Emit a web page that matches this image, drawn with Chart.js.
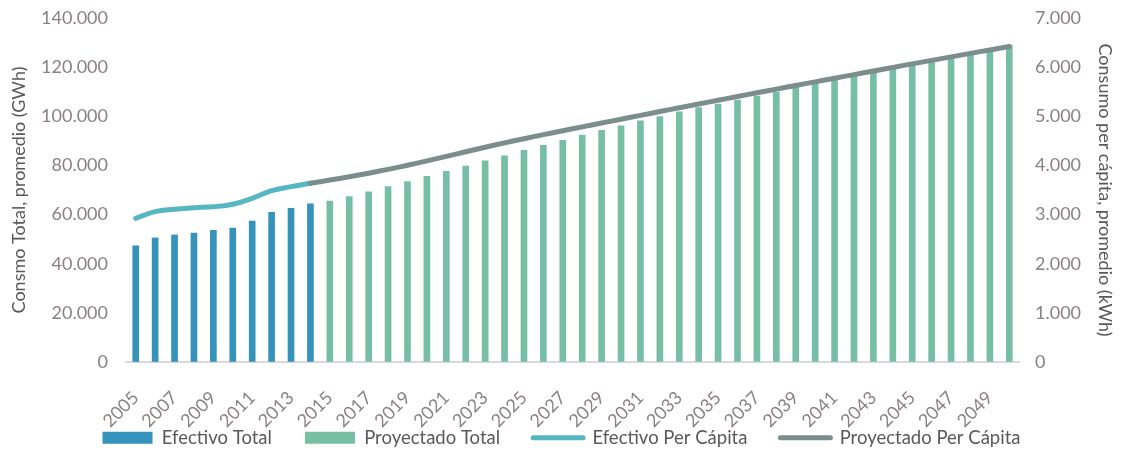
<!DOCTYPE html>
<html lang="es">
<head>
<meta charset="utf-8">
<title>Consumo de energía</title>
<script src="https://cdn.jsdelivr.net/npm/chart.js@4"></script>
<style>
    html, body { margin: 0; padding: 0; background: #ffffff; }
    #contenedor { width: 1123px; height: 454px; }
</style>
</head>
<body>
<div id="contenedor"><canvas id="grafConsumo"></canvas></div>
<script>
// roky / años
const anios = ['2005', '2006', '2007', '2008', '2009', '2010', '2011', '2012', '2013', '2014',
    '2015', '2016', '2017', '2018', '2019', '2020', '2021', '2022', '2023', '2024',
    '2025', '2026', '2027', '2028', '2029', '2030', '2031', '2032', '2033', '2034',
    '2035', '2036', '2037', '2038', '2039', '2040', '2041', '2042', '2043', '2044',
    '2045', '2046', '2047', '2048', '2049', '2050'];

// consumo total (GWh), 2005-2014 efectivo, 2015-2050 proyectado
const efectivoTotal = [47300, 50500, 51700, 52500, 53600, 54500, 57400, 60900, 62500, 64400];
const proyectadoTotal = [65500, 67300, 69300, 71350, 73400, 75550, 77600, 79750, 81900, 83950,
    86150, 88200, 90200, 92400, 94300, 96150, 98100, 99850, 101800, 103500,
    105000, 106600, 108250, 109900, 111800, 113400, 115050, 116700, 118150, 119800,
    121400, 122900, 124550, 126050, 127300, 129000];

// consumo per cápita (kWh), efectivo 2005-2014, proyectado 2014-2050
const efectivoPerCapita = [2924, 3059, 3107, 3140, 3160, 3209, 3331, 3486, 3568, 3637];
const proyectadoPerCapita = [3637, 3702, 3770, 3842, 3920, 4004, 4092, 4184, 4278, 4370,
    4459, 4544, 4626, 4706, 4785, 4863, 4941, 5019, 5097, 5174,
    5251, 5327, 5403, 5478, 5553, 5627, 5701, 5775, 5848, 5921,
    5994, 6066, 6138, 6209, 6280, 6350, 6420];

const ticksIzq = [0, 20000, 40000, 60000, 80000, 100000, 120000, 140000];
const ticksDer = [0, 1000, 2000, 3000, 4000, 5000, 6000, 7000];

// doplnit null, aby řady seděly na osu let
function naOsu(hodnoty, od) {
    const pole = anios.map(() => null);
    hodnoty.forEach((v, i) => { pole[od + i] = v; });
    return pole;
}

function tisice(v) {
    return String(v).replace(/\B(?=(\d{3})+(?!\d))/g, '.');
}

const pismo = { family: 'Lato, "Open Sans", sans-serif', size: 18 };
const pismoLegendy = { family: 'Lato, "Open Sans", sans-serif', size: 18.5 };
const barvaPopisku = '#8a8282';
const barvaTitulku = '#595959';

// popisky roků přesahují do pásu legendy, proto nechat ořez osy x až k dolnímu okraji
const neorezavatOsuX = {
    id: 'neorezavatOsuX',
    afterLayout(chart) {
        chart.scales.x.bottom = chart.height;
    }
};

// neviditelné čárky místo velkého ticks.padding (to by posunulo horní okraj grafu)
function mrizkaOsyY(delka) {
    return { display: true, drawOnChartArea: false, drawTicks: true, tickLength: delka, color: 'rgba(0,0,0,0)' };
}

const ctx = document.getElementById('grafConsumo').getContext('2d');

window.grafConsumo = new Chart(ctx, {
    type: 'bar',
    data: {
        labels: anios,
        datasets: [
            {
                label: 'Efectivo Total',
                data: naOsu(efectivoTotal, 0),
                backgroundColor: '#3592ba',
                barThickness: 6,
                grouped: false,
                yAxisID: 'y',
                order: 2
            },
            {
                label: 'Proyectado Total',
                data: naOsu(proyectadoTotal, 10),
                backgroundColor: '#77bfa4',
                barThickness: 6,
                grouped: false,
                yAxisID: 'y',
                order: 2
            },
            {
                type: 'line',
                label: 'Efectivo Per Cápita',
                data: naOsu(efectivoPerCapita, 0),
                borderColor: '#56b7c3',
                backgroundColor: '#56b7c3',
                borderWidth: 5,
                borderCapStyle: 'round',
                tension: 0.4,
                pointRadius: 0,
                yAxisID: 'y1',
                order: 1
            },
            {
                type: 'line',
                label: 'Proyectado Per Cápita',
                data: naOsu(proyectadoPerCapita, 9),
                borderColor: '#7b8d8c',
                backgroundColor: '#7b8d8c',
                borderWidth: 5,
                borderCapStyle: 'round',
                tension: 0.4,
                pointRadius: 0,
                yAxisID: 'y1',
                order: 0
            }
        ]
    },
    plugins: [neorezavatOsuX],
    options: {
        responsive: true,
        maintainAspectRatio: false,
        animation: false,
        layout: { padding: { top: 18, bottom: -3, left: 0, right: 0 } },
        plugins: {
            tooltip: { enabled: false },
            legend: {
                position: 'bottom',
                labels: {
                    usePointStyle: true,
                    pointStyleWidth: 50,
                    boxHeight: 12,
                    padding: 33,
                    color: barvaTitulku,
                    font: pismoLegendy,
                    generateLabels: (chart) => chart.data.datasets.map((ds, i) => ({
                        text: ds.label,
                        datasetIndex: i,
                        fillStyle: ds.backgroundColor,
                        strokeStyle: ds.type === 'line' ? ds.borderColor : ds.backgroundColor,
                        lineWidth: ds.type === 'line' ? 5 : 0,
                        lineCap: 'round',
                        pointStyle: ds.type === 'line' ? 'line' : 'rect',
                        fontColor: barvaTitulku,
                        hidden: false
                    }))
                }
            }
        },
        scales: {
            x: {
                offset: true,
                grid: { display: false, drawTicks: false },
                border: { display: true, color: '#d9d9d9', width: 2 },
                ticks: {
                    autoSkip: false,
                    maxRotation: 45,
                    minRotation: 45,
                    padding: 25,
                    color: barvaPopisku,
                    font: pismo,
                    callback: (value, index) => (index % 2 === 0 ? anios[index] : '')
                },
                afterFit: (scale) => { scale.height = 33.5; }
            },
            y: {
                position: 'left',
                min: 0,
                max: 140000,
                grid: mrizkaOsyY(15),
                border: { display: false },
                afterBuildTicks: (scale) => { scale.ticks = ticksIzq.map(v => ({ value: v })); },
                ticks: {
                    padding: 3,
                    color: barvaPopisku,
                    font: pismo,
                    callback: (value) => tisice(value)
                },
                title: {
                    display: true,
                    text: 'Consmo Total, promedio (GWh)',
                    color: barvaTitulku,
                    font: pismo,
                    padding: { top: 8, bottom: 0 }
                },
                afterFit: (scale) => { scale.width = 126; }
            },
            y1: {
                position: 'right',
                min: 0,
                max: 7000,
                grid: mrizkaOsyY(13),
                border: { display: false },
                afterBuildTicks: (scale) => { scale.ticks = ticksDer.map(v => ({ value: v })); },
                ticks: {
                    padding: 3,
                    color: barvaPopisku,
                    font: pismo,
                    callback: (value) => tisice(value)
                },
                title: {
                    display: true,
                    text: 'Consumo per cápita, promedio (kWh)',
                    color: barvaTitulku,
                    font: pismo,
                    padding: { top: 7, bottom: 0 }
                },
                afterFit: (scale) => { scale.width = 104; }
            }
        }
    }
});
</script>
</body>
</html>
